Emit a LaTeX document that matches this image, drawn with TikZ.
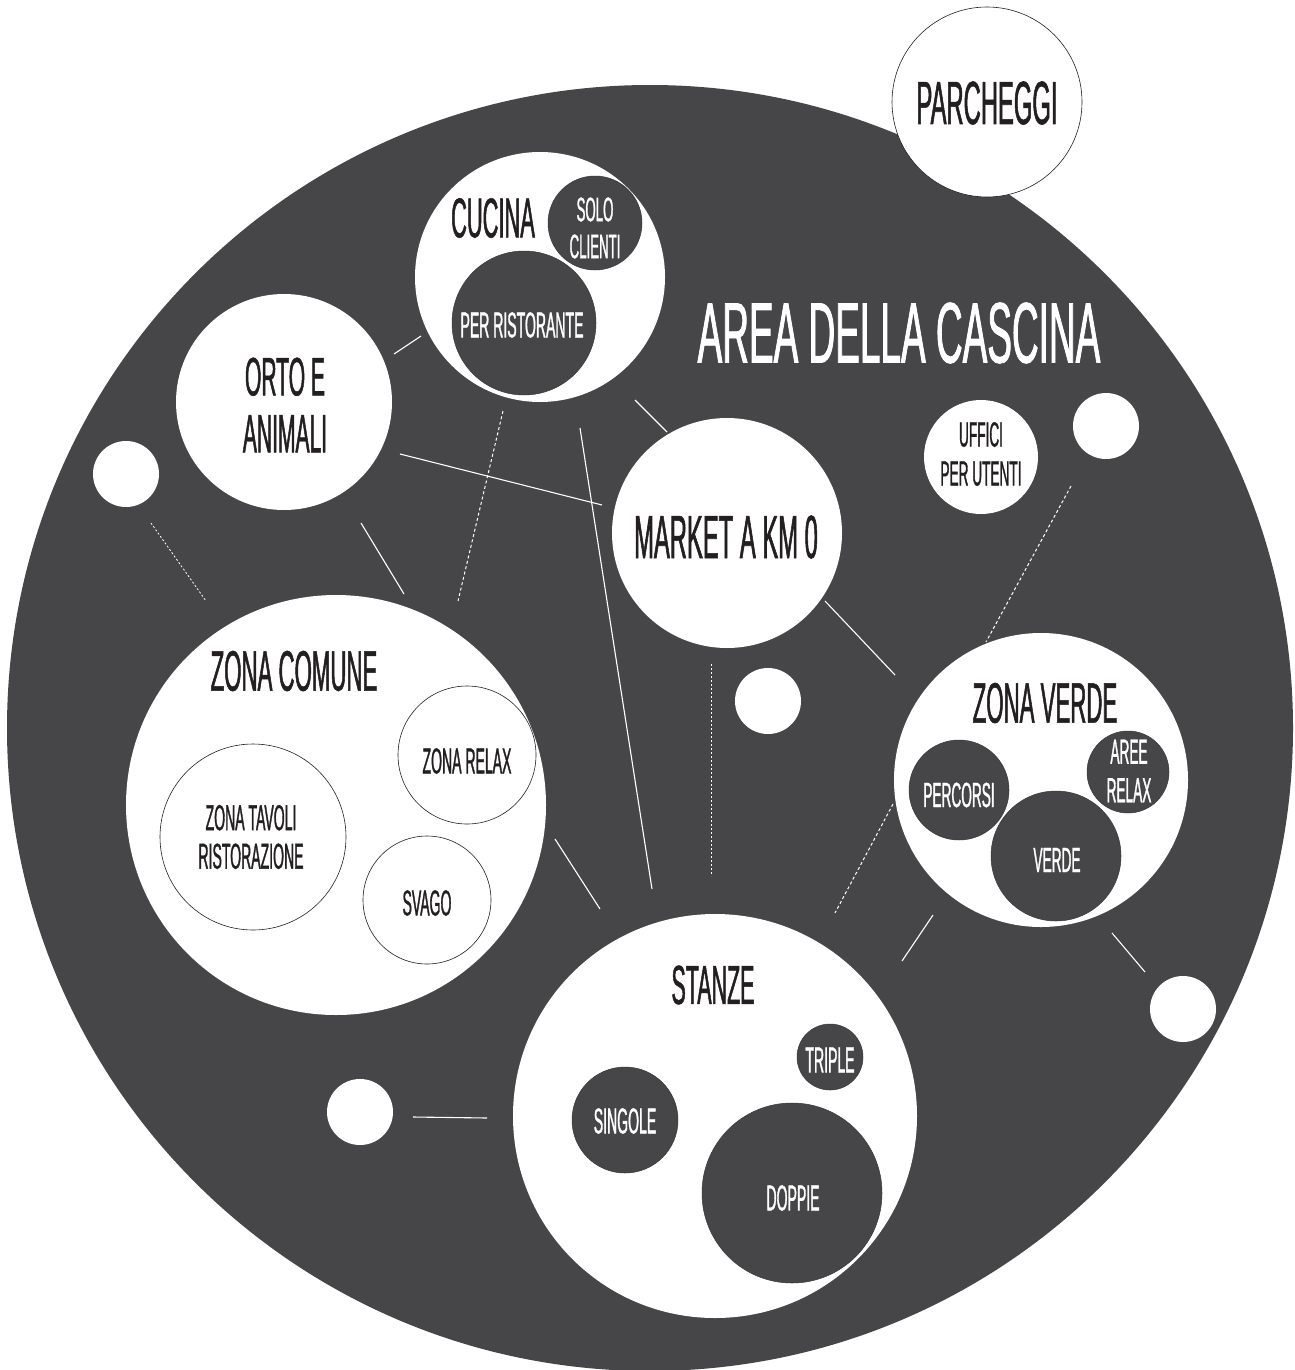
\documentclass[tikz,border=0pt]{standalone}
\usepackage{fontspec}
\newfontfamily\cf[FakeStretch=0.39,FakeBold=0.9]{Liberation Sans}
\newfontfamily\cfa[FakeStretch=0.43,FakeBold=0.9]{Liberation Sans}
\definecolor{bg}{RGB}{70,70,72}
\definecolor{ink}{RGB}{35,31,32}
\begin{document}
\begin{tikzpicture}[x=1pt,y=-1pt,
  wc/.style={circle,fill=white,inner sep=0pt,outer sep=0pt,minimum size={2*#1pt}},
  oc/.style={circle,fill=white,draw=ink,line width=0.6pt,inner sep=0pt,outer sep=0pt,minimum size={2*#1pt}},
  dc/.style={circle,fill=bg,draw=bg!80!black,line width=0.5pt,inner sep=0pt,outer sep=0pt,minimum size={2*#1pt}},
  big/.style={font={\cf\fontsize{57}{56}\selectfont},text=ink,inner sep=0pt,align=center},
  small/.style={font={\cf\fontsize{36}{38.5}\selectfont},text=ink,inner sep=0pt,align=center},
  conn/.style={draw=white,line width=1.1pt},
  dconn/.style={draw=white,line width=1pt,dash pattern=on 3pt off 2.5pt},
]
\useasboundingbox (0,0) rectangle (1294,1370);
\begin{scope}
\clip (0,0) rectangle (1294,1370);
\node[circle,fill=bg,inner sep=0pt,minimum size=1286pt] (area) at (650,728) {};
\end{scope}
\node[text=white,font={\cfa\fontsize{86}{86}\selectfont},inner sep=0pt] (areat) at (899,333) {AREA DELLA CASCINA};

% connector end points
\coordinate (a1) at (394,354); \coordinate (b1) at (421,336);
\coordinate (a2) at (400,454); \coordinate (b2) at (602,505);
\coordinate (a3) at (635,400); \coordinate (b3) at (667,432);
\coordinate (a4) at (503,411); \coordinate (b4) at (458,601);
\coordinate (a5) at (580,428); \coordinate (b5) at (652,889);
\coordinate (a6) at (361,523); \coordinate (b6) at (404,594);
\coordinate (a7) at (151,523); \coordinate (b7) at (206,601);
\coordinate (a8) at (825,601); \coordinate (b8) at (895,675);
\coordinate (a9) at (711,664); \coordinate (b9) at (711,876);
\coordinate (a10) at (555,839); \coordinate (b10) at (600,909);
\coordinate (a11) at (893,804); \coordinate (b11) at (835,913);
\coordinate (a12) at (933,915); \coordinate (b12) at (902,961);
\coordinate (a13) at (1112,933); \coordinate (b13) at (1145,972);
\coordinate (a14) at (413,1117); \coordinate (b14) at (487,1118);
\coordinate (a15) at (1071,486); \coordinate (b15) at (986,642);

\draw[conn] (a1) -- (b1);
\draw[conn] (a2) -- (b2);
\draw[conn] (a3) -- (b3);
\draw[dconn] (a4) -- (b4);
\draw[conn] (a5) -- (b5);
\draw[conn] (a6) -- (b6);
\draw[dconn,dash pattern=on 2pt off 2pt,line width=0.8pt] (a7) -- (b7);
\draw[conn] (a8) -- (b8);
\draw[dconn,dash pattern=on 2pt off 2pt,line width=0.8pt] (a9) -- (b9);
\draw[conn] (a10) -- (b10);
\draw[dconn] (a11) -- (b11);
\draw[conn] (a12) -- (b12);
\draw[conn] (a13) -- (b13);
\draw[conn] (a14) -- (b14);
\draw[dconn] (a15) -- (b15);

% parcheggi
\node[oc=95] (parc) at (987,102) {};
\node[big,font={\cf\fontsize{61}{61}\selectfont}] (parct) at (987,103) {PARCHEGGI};

% cucina
\node[wc=125] (cuc) at (540,277) {};
\node[big,font={\cf\fontsize{56}{56}\selectfont}] (cuct) at (493,218) {CUCINA};
\node[dc=47] (solo) at (595,223) {};
\node[small,text=white,font={\cf\fontsize{34}{37}\selectfont}] (solot) at (595,228) {SOLO\\CLIENTI};
\node[dc=72] (perr) at (524,323) {};
\node[small,text=white] (perrt) at (522,325) {PER RISTORANTE};

% orto
\node[wc=108] (orto) at (284,402) {};
\node[big,font={\cf\fontsize{54}{57}\selectfont}] (ortot) at (285,405) {ORTO E\\ANIMALI};

% small circles
\node[wc=33] (s1) at (126,474) {};
\node[wc=33] (s2) at (1106,426) {};
\node[wc=33] (s3) at (768,701) {};
\node[wc=33] (s4) at (360,1112) {};
\node[wc=33] (s5) at (1183,1009) {};

% market
\node[wc=115] (mkt) at (727,533) {};
\node[big,font={\cf\fontsize{61}{61}\selectfont}] (mktt) at (726,537) {MARKET A KM 0};

% uffici
\node[wc=57] (uff) at (981,457) {};
\node[small,font={\cf\fontsize{35}{39}\selectfont}] (ufft) at (981,454) {UFFICI\\PER UTENTI};

% zona verde
\node[wc=147] (zv) at (1041,780) {};
\node[big] (zvt) at (1045,703) {ZONA VERDE};
\node[dc=50] (perc) at (959,790) {};
\node[small,text=white,font={\cf\fontsize{35}{38}\selectfont}] (perct) at (959,795) {PERCORSI};
\node[dc=65] (verde) at (1056,856) {};
\node[small,text=white,font={\cf\fontsize{35}{38}\selectfont}] (verdet) at (1057,860) {VERDE};
\node[dc=41] (aree) at (1128,772) {};
\node[small,text=white,font={\cf\fontsize{35}{38.5}\selectfont}] (areet) at (1129,771) {AREE\\RELAX};

% zona comune
\node[wc=210] (zc) at (336,805) {};
\node[big] (zct) at (294,671) {ZONA COMUNE};
\node[oc=69] (zr) at (467,755) {};
\node[small] (zrt) at (467,761) {ZONA RELAX};
\node[oc=93] (zt) at (253,837) {};
\node[small] (ztt) at (251,837) {ZONA TAVOLI\\RISTORAZIONE};
\node[oc=64] (sv) at (427,900) {};
\node[small] (svt) at (427,903) {SVAGO};

% stanze
\node[wc=202] (st) at (715,1116) {};
\node[big,font={\cf\fontsize{55}{55}\selectfont}] (stt) at (713,985) {STANZE};
\node[dc=33] (tri) at (830,1057) {};
\node[small,text=white] (trit) at (830,1060) {TRIPLE};
\node[dc=53] (sing) at (625,1120) {};
\node[small,text=white] (singt) at (625,1121) {SINGOLE};
\node[dc=90] (dop) at (792,1193) {};
\node[small,text=white] (dopt) at (793,1198) {DOPPIE};
\end{tikzpicture}
\end{document}
